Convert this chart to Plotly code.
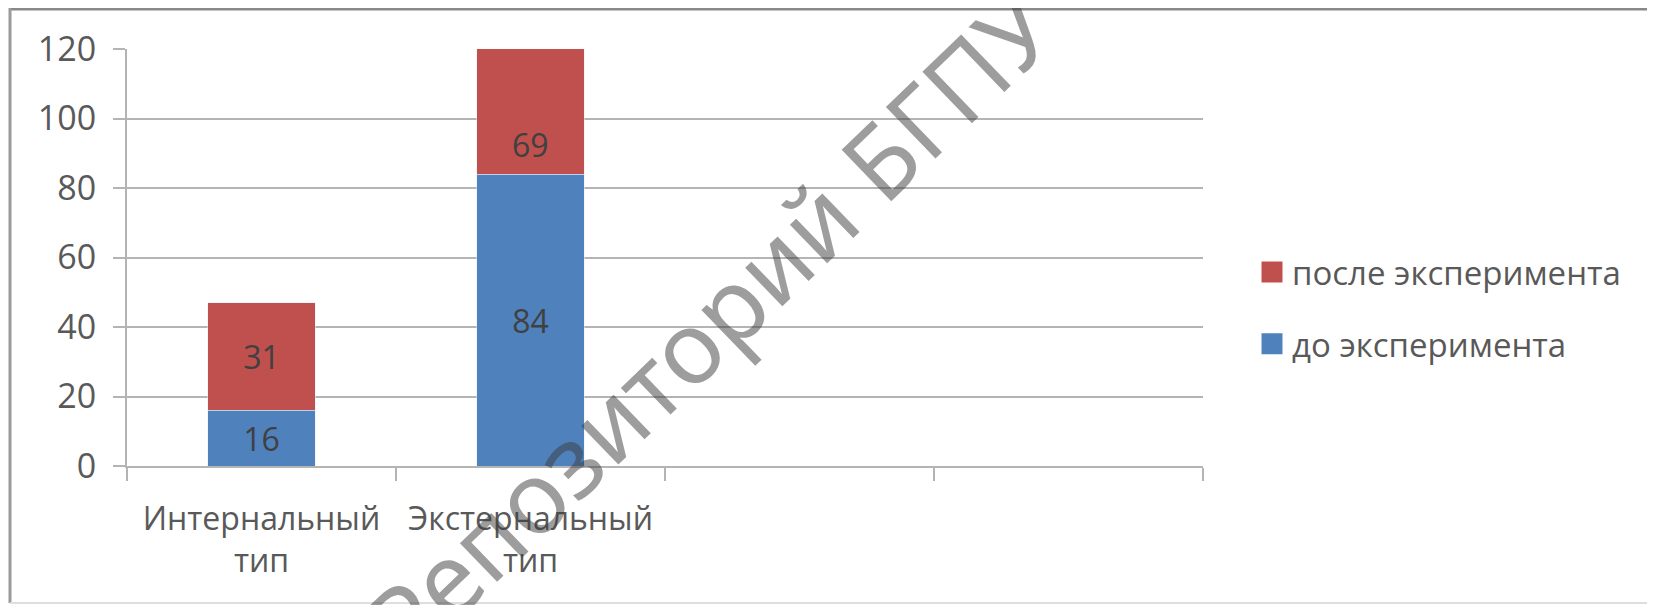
import plotly.graph_objects as go

# ---- data ----
categories = ["Интернальный<br>тип", "Экстернальный<br>тип", " ", "  "]
before_vals = [16, 84, None, None]   # до эксперимента
after_vals = [31, 69, None, None]    # после эксперимента
series_names = ["до эксперимента", "после эксперимента"]
y_ticks = [0, 20, 40, 60, 80, 100, 120]
y_max = 120
watermark = "Репозиторий БГПУ"

# ---- style / layout (page pixels; the page body has an 8px margin) ----
OFF = 8
W, H = 1655 - OFF, 605 - OFF
PLOT_L, PLOT_R, PLOT_T, PLOT_B = 127, 1203, 49, 466   # page coords
L, T = PLOT_L - OFF, PLOT_T - OFF
R, B = W - (PLOT_R - OFF), H - (PLOT_B - OFF)
PW, PH = W - L - R, H - T - B
BLUE = "#4F81BD"
RED = "#C0504D"
TXT = "#595959"
LBL = "#404040"
GRID = "#b4b4b4"
FONT = "Open Sans"

def px_x(x):  # page x -> paper
    return (x - OFF - L) / PW

def px_y(y):  # page y -> paper
    return (H - B - (y - OFF)) / PH

# labels of stacked segments that stick out above the axis are drawn separately
after_text = [v if (v is not None and b + v <= y_max) else None
              for b, v in zip(before_vals, after_vals)]

fig = go.Figure()
fig.add_trace(go.Bar(
    x=categories, y=before_vals, name=series_names[0], marker_color=BLUE,
    text=before_vals, textposition="inside", insidetextanchor="middle",
    insidetextfont=dict(family=FONT, size=32, color=LBL),
    showlegend=False, hoverinfo="x+y+name"))
fig.add_trace(go.Bar(
    x=categories, y=after_vals, name=series_names[1], marker_color=RED,
    text=after_text, textposition="inside", insidetextanchor="middle",
    insidetextfont=dict(family=FONT, size=32, color=LBL),
    showlegend=False, hoverinfo="x+y+name"))

# legend entries with larger square symbols
for name, col, grp in [(series_names[1], RED, "a"), (series_names[0], BLUE, "b")]:
    fig.add_trace(go.Scatter(
        x=[None], y=[None], mode="markers", name=name, legendgroup=grp,
        marker=dict(symbol="square", size=16, color=col,
                    line=dict(color=col, width=5))))

annotations = []
for c, b, v in zip(categories, before_vals, after_vals):
    if v is not None and b + v > y_max:
        annotations.append(dict(
            x=c, y=b, xref="x", yref="y", text=str(v), showarrow=False,
            yanchor="middle", yshift=30,
            font=dict(family=FONT, size=32, color=LBL)))

annotations.append(dict(
    text=watermark, xref="paper", yref="paper", x=px_x(708), y=px_y(324),
    showarrow=False, textangle=-44,
    font=dict(family="Noto Sans", size=100, color="rgba(60,60,60,0.5)")))

fig.update_layout(
    width=W, height=H,
    margin=dict(l=L, r=R, t=T, b=B),
    barmode="stack", bargap=0.6,
    paper_bgcolor="white", plot_bgcolor="white",
    font=dict(family=FONT, size=32, color=TXT),
    showlegend=True,
    legend=dict(x=px_x(1252), y=px_y(308), xanchor="left", yanchor="middle",
                traceorder="grouped", tracegroupgap=26, itemsizing="trace",
                font=dict(family=FONT, size=33, color=TXT),
                bgcolor="rgba(0,0,0,0)"),
    xaxis=dict(type="category", categoryorder="array", categoryarray=categories,
               range=[-0.5, 3.5], showline=True, linecolor=GRID, linewidth=2,
               ticks="outside", tickson="boundaries", ticklen=13, tickwidth=2,
               tickcolor=GRID, showgrid=False, ticklabelstandoff=24,
               tickfont=dict(family=FONT, size=32, color=TXT), fixedrange=True),
    yaxis=dict(range=[0, y_max], tickvals=y_ticks, showline=True, linecolor=GRID,
               linewidth=2, ticks="outside", ticklen=12, tickwidth=2, tickcolor=GRID,
               showgrid=True, gridcolor=GRID, gridwidth=2, zeroline=False,
               ticklabelstandoff=10,
               tickfont=dict(family=FONT, size=34, color=TXT), fixedrange=True),
    shapes=[
        dict(type="line", xref="paper", yref="paper", x0=px_x(10), x1=px_x(1670),
             y0=px_y(9), y1=px_y(9), line=dict(color="#888888", width=3)),
        dict(type="line", xref="paper", yref="paper", x0=px_x(10), x1=px_x(10),
             y0=px_y(8), y1=px_y(603), line=dict(color="#9a9a9a", width=3)),
        dict(type="line", xref="paper", yref="paper", x0=px_x(10), x1=px_x(1670),
             y0=px_y(603), y1=px_y(603), line=dict(color="#dedede", width=2)),
    ],
    annotations=annotations,
)

fig.write_html("out.html")
